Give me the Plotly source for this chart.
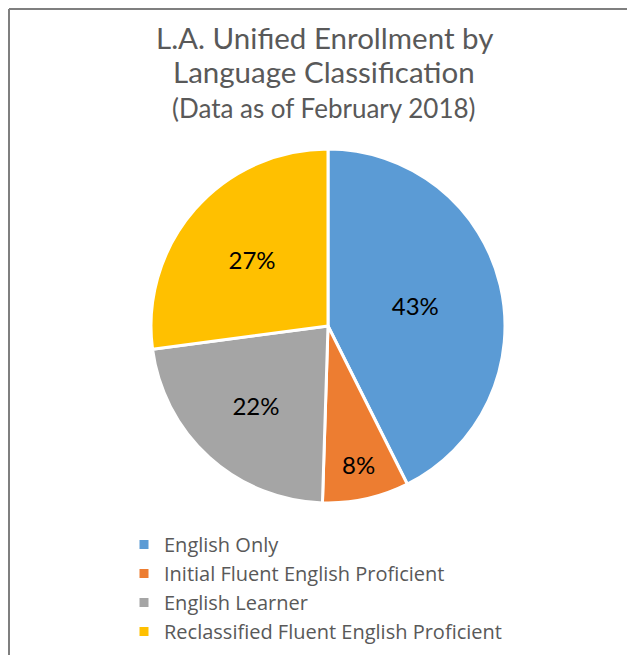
import plotly.graph_objects as go

# Data (February 2018)
categories = [
    "English Only",
    "Initial Fluent English Proficient",
    "English Learner",
    "Reclassified Fluent English Proficient",
]
shares = [42.6, 7.9, 22.4, 27.1]
colors = ["#5B9BD5", "#ED7D31", "#A5A5A5", "#FFC000"]

W, H = 635, 655
FONT = "Lato"
GREY = "#595959"
OFF = 8  # page body margin


def px(x):
    return (x - OFF) / W


def py(y):
    return 1 - (y - OFF) / H


fig = go.Figure()

fig.add_trace(go.Pie(
    labels=categories,
    values=shares,
    sort=False,
    direction="clockwise",
    rotation=0,
    marker=dict(colors=colors, line=dict(color="white", width=3)),
    texttemplate="%{percent:.0%}",
    textposition="inside",
    insidetextorientation="horizontal",
    textfont=dict(family=FONT, size=24, color="black"),
    domain=dict(x=[px(151), px(505)], y=[py(503), py(149)]),
    hoverinfo="label+percent",
))

# title lines
title_lines = [
    ("L.A. Unified Enrollment by", 37, 29.5),
    ("Language Classification", 72, 29.5),
    ("(Data as of February 2018)", 108, 26),
]
for txt, yc, size in title_lines:
    fig.add_annotation(text=txt, x=px(324), y=py(yc), xref="paper", yref="paper",
                       xanchor="center", yanchor="middle", showarrow=False,
                       font=dict(family=FONT, size=size, color=GREY))

# chart border (only top and left edges show)
fig.add_shape(type="line", xref="paper", yref="paper",
              x0=1 / W, x1=1, y0=1 - 1 / H, y1=1 - 1 / H,
              line=dict(color="#7F7F7F", width=2))
fig.add_shape(type="line", xref="paper", yref="paper",
              x0=1 / W, x1=1 / W, y0=0, y1=1 - 1 / H,
              line=dict(color="#7F7F7F", width=2))

fig.update_layout(
    width=W, height=H,
    margin=dict(l=0, r=0, t=0, b=0),
    paper_bgcolor="white",
    plot_bgcolor="white",
    showlegend=True,
    legend=dict(
        x=px(124), y=py(525), xanchor="left", yanchor="top",
        font=dict(family="Open Sans", size=20, color=GREY),
        traceorder="normal",
    ),
)

fig.write_html("out.html")
